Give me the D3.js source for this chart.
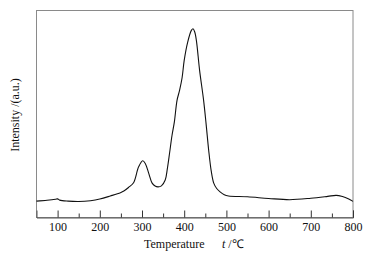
<!DOCTYPE html>
<html><head><meta charset="utf-8">
<script src="https://cdn.jsdelivr.net/npm/d3@7"></script>
<style>html,body{margin:0;padding:0;background:#fff}svg{display:block}</style>
</head><body>
<script>
const temperature = [50, 75, 95, 100, 105, 125, 150, 178, 200, 225, 249, 257, 268, 280, 292, 301.7, 308, 316, 324, 331, 338, 346, 355, 360, 365.6, 371, 376.7, 383, 389, 395, 400, 408, 417, 421, 425, 429, 436.5, 446, 452, 458, 464, 470, 477, 485, 495, 505, 550, 600, 650, 700, 740, 760, 775, 790, 800];
const intensity =   [7.9, 8.3, 8.8, 9.0, 8.4, 7.9, 7.7, 8.1, 8.9, 10.4, 12.0, 12.8, 14.5, 16.8, 24.5, 27.4, 26.0, 21.3, 16.6, 15.2, 14.8, 15.3, 18.1, 23.5, 31.5, 39.5, 46.2, 56.6, 61.4, 67.5, 75.9, 84.5, 90.4, 91.2, 89.6, 85.3, 71.1, 56.6, 45.0, 32.5, 22.5, 16.6, 14.0, 12.4, 11.0, 10.4, 10.0, 9.2, 8.6, 9.3, 10.2, 10.7, 10.1, 8.9, 7.8];
const majorTicks = [100, 200, 300, 400, 500, 600, 700, 800];
const minorTicks = [150, 250, 350, 450, 550, 650, 750];

const W = 369, H = 257;
const m = {left: 36.5, right: 16, top: 10.5, bottom: 39.5};
const svg = d3.select("body").append("svg").attr("width", W).attr("height", H);
const x = d3.scaleLinear().domain([50, 800]).range([m.left, W - m.right]);
const y = d3.scaleLinear().domain([0, 100]).range([H - m.bottom, m.top]);
const font = "'Liberation Serif','Times New Roman',serif";

// frame
svg.append("rect").attr("x", m.left).attr("y", m.top)
  .attr("width", W - m.right - m.left).attr("height", H - m.bottom - m.top)
  .attr("fill", "none").attr("stroke", "#8a8a8a").attr("stroke-width", 1);

// bottom axis
const ax = svg.append("g").attr("transform", `translate(0,${H - m.bottom})`);
ax.call(d3.axisBottom(x).tickValues(majorTicks).tickSize(-7).tickPadding(5).tickFormat(d3.format("d")));
ax.select(".domain").attr("stroke", "#555");
ax.selectAll(".tick line").attr("stroke", "#333");
ax.selectAll("text").attr("font-family", font).attr("font-size", 12).attr("fill", "#111");
const ax2 = svg.append("g").attr("transform", `translate(0,${H - m.bottom})`);
ax2.call(d3.axisBottom(x).tickValues(minorTicks).tickSize(-4).tickFormat(""));
ax2.select(".domain").remove();
ax2.selectAll(".tick line").attr("stroke", "#333");

// curve
const line = d3.line().x((d, i) => x(temperature[i])).y(d => y(d)).curve(d3.curveCatmullRom.alpha(0.5));
svg.append("path").datum(intensity).attr("d", line)
  .attr("fill", "none").attr("stroke", "#111").attr("stroke-width", 1.1);

// axis titles
const t = svg.append("text").attr("x", 144).attr("y", 248)
  .attr("font-family", font).attr("font-size", 12).attr("fill", "#111");
t.append("tspan").text("Temperature");
t.append("tspan").attr("x", 222).attr("font-style", "italic").text("t");
t.append("tspan").text(" /℃");

svg.append("text").attr("transform", "translate(19,115) rotate(-90)")
  .attr("text-anchor", "middle").attr("font-family", font).attr("font-size", 12).attr("fill", "#111")
  .text("Intensity /(a.u.)");
</script>
</body></html>
